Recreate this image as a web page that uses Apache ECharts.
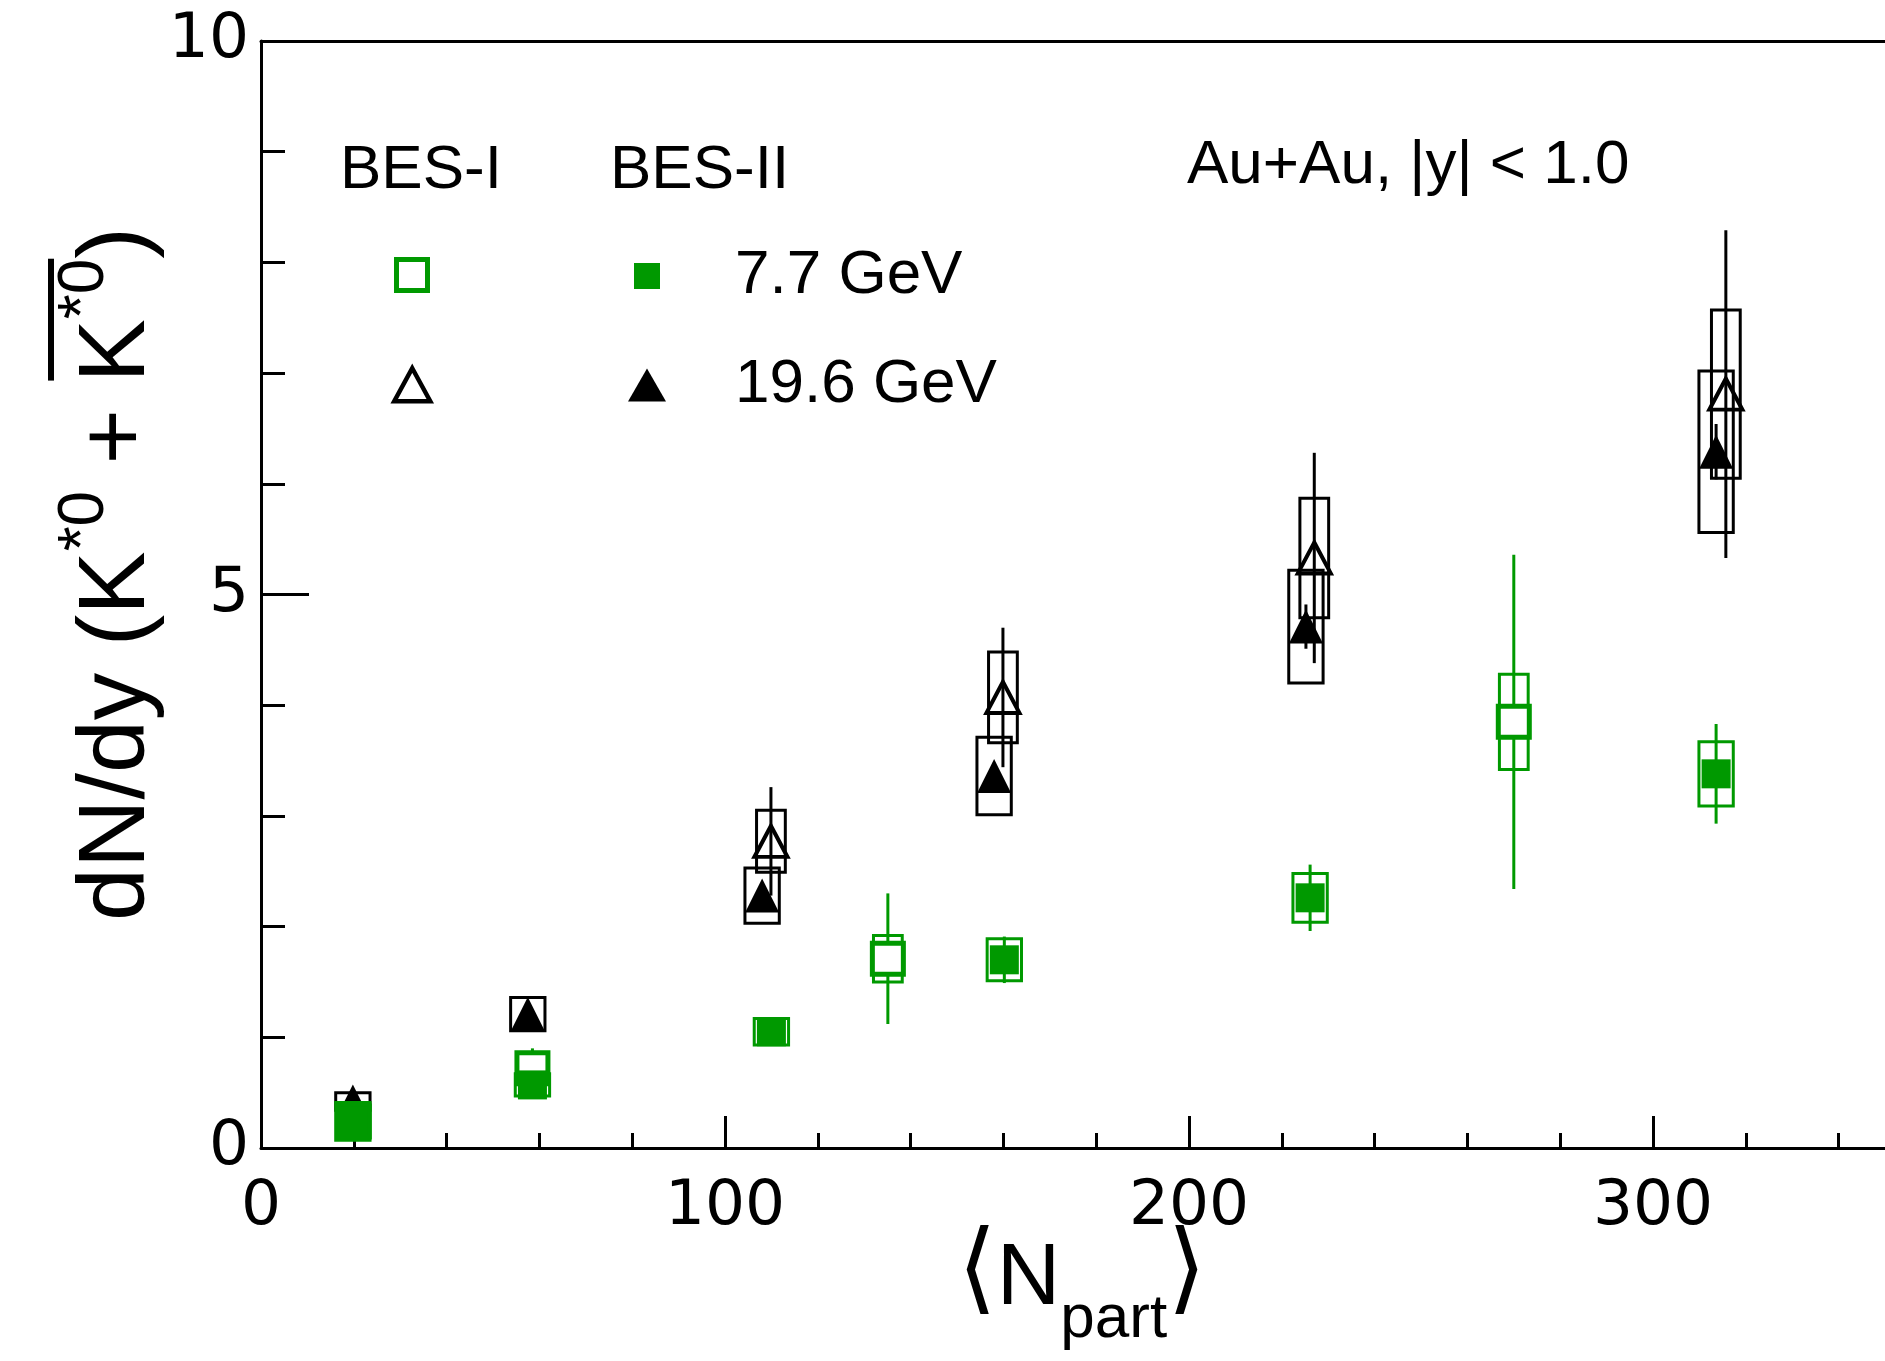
<!DOCTYPE html>
<html>
<head>
<meta charset="utf-8">
<script src="https://cdn.jsdelivr.net/npm/echarts@6/dist/echarts.min.js"></script>
<style>
  html, body { margin: 0; padding: 0; background: #fff; }
  #chart { width: 1885px; height: 1361px; }
</style>
</head>
<body>
<div id="chart"></div>
<script>
// K*0 + anti-K*0 yields vs <Npart>: centre value, statistical and systematic errors
const bes2_196_npart = [19.8, 57.5, 108.0, 158.0, 225.2, 313.6];
const bes2_196_yield = [0.42, 1.21, 2.28, 3.36, 4.71, 6.29];
const bes2_196_stat  = [0.05, 0.06, 0.08, 0.12, 0.20, 0.25];
const bes2_196_sys   = [0.08, 0.15, 0.25, 0.35, 0.51, 0.73];

const bes1_196_npart = [109.9, 159.9, 227.0, 315.7];
const bes1_196_yield = [2.77, 4.07, 5.33, 6.81];
const bes1_196_stat  = [0.49, 0.63, 0.95, 1.48];
const bes1_196_sys   = [0.28, 0.41, 0.54, 0.76];

const bes2_77_npart = [19.8, 58.5, 110.0, 160.2, 226.1, 313.6];
const bes2_77_yield = [0.24, 0.57, 1.05, 1.70, 2.26, 3.38];
const bes2_77_stat  = [0.05, 0.06, 0.05, 0.21, 0.30, 0.45];
const bes2_77_sys   = [0.17, 0.10, 0.12, 0.19, 0.22, 0.29];

const bes1_77_npart = [20.0, 58.5, 135.1, 270.0];
const bes1_77_yield = [0.24, 0.72, 1.71, 3.85];
const bes1_77_stat  = [0.05, 0.18, 0.59, 1.51];
const bes1_77_sys   = [0.08, 0.10, 0.21, 0.43];

const xTickLabels = [0, 100, 200, 300];
const xMinorTicks = [20, 40, 60, 80, 120, 140, 160, 180, 220, 240, 260, 280, 320, 340];
const yTickLabels = [0, 5, 10];

const GREEN = '#009900';
const BLACK = '#000000';
const TEXT_FONT = 'Liberation Sans';
const NUM_FONT = 'DejaVu Sans';

function rows(n, y, st, sy) {
  return n.map((v, i) => [v, y[i], st[i], sy[i]]);
}

// systematic box: half-width given in <Npart> units
function sysBox(halfWidth, color, lw) {
  return function (params, api) {
    const x = api.value(0), y = api.value(1), s = api.value(3);
    const a = api.coord([x - halfWidth, y + s]);
    const b = api.coord([x + halfWidth, y - s]);
    return {
      type: 'rect',
      shape: { x: a[0], y: a[1], width: b[0] - a[0], height: b[1] - a[1] },
      style: { fill: 'none', stroke: color, lineWidth: lw }
    };
  };
}

// statistical error bar
function statBar(color, lw) {
  return function (params, api) {
    const x = api.value(0), y = api.value(1), e = api.value(2);
    const a = api.coord([x, y + e]);
    const b = api.coord([x, y - e]);
    return {
      type: 'line',
      shape: { x1: a[0], y1: a[1], x2: b[0], y2: b[1] },
      style: { stroke: color, lineWidth: lw }
    };
  };
}

function errSeries(data, halfWidth, color, zBase) {
  return [
    { type: 'custom', data: data, renderItem: sysBox(halfWidth, color, 3), encode: { x: 0, y: 1 }, z: zBase, silent: true },
    { type: 'custom', data: data, renderItem: statBar(color, 3), encode: { x: 0, y: 1 }, z: zBase + 1, silent: true }
  ];
}

const d196b2 = rows(bes2_196_npart, bes2_196_yield, bes2_196_stat, bes2_196_sys);
const d196b1 = rows(bes1_196_npart, bes1_196_yield, bes1_196_stat, bes1_196_sys);
const d77b2 = rows(bes2_77_npart, bes2_77_yield, bes2_77_stat, bes2_77_sys);
const d77b1 = rows(bes1_77_npart, bes1_77_yield, bes1_77_stat, bes1_77_sys);

const series = [].concat(
  errSeries(d196b1, 3.1, BLACK, 2),
  errSeries(d196b2, 3.7, BLACK, 2),
  [
    { name: 'BES-I 19.6', type: 'scatter', data: d196b1, encode: { x: 0, y: 1 }, symbol: 'triangle', symbolSize: [33, 31],
      itemStyle: { color: 'rgba(255,255,255,0)', borderColor: BLACK, borderWidth: 4, opacity: 1 }, z: 4, silent: true, emphasis: { disabled: true } },
    { name: 'BES-II 19.6', type: 'scatter', data: d196b2, encode: { x: 0, y: 1 }, symbol: 'triangle', symbolSize: [34, 34],
      itemStyle: { color: BLACK, opacity: 1 }, z: 5, silent: true, emphasis: { disabled: true } }
  ],
  errSeries(d77b1, 3.1, GREEN, 6),
  errSeries(d77b2, 3.7, GREEN, 6),
  [
    { name: 'BES-I 7.7', type: 'scatter', data: d77b1, encode: { x: 0, y: 1 }, symbol: 'rect', symbolSize: 31,
      itemStyle: { color: '#ffffff', borderColor: GREEN, borderWidth: 5, opacity: 1 }, z: 8, silent: true, emphasis: { disabled: true } },
    { name: 'BES-II 7.7', type: 'scatter', data: d77b2, encode: { x: 0, y: 1 }, symbol: 'rect', symbolSize: 29,
      itemStyle: { color: GREEN, opacity: 1 }, z: 9, silent: true, emphasis: { disabled: true } }
  ]
);

// text helpers for the composed axis titles
const measureCtx = document.createElement('canvas').getContext('2d');
function textWidth(str, size, family) {
  measureCtx.font = size + 'px "' + family + '"';
  return measureCtx.measureText(str).width;
}
function buildRun(parts) {
  let cursor = 0;
  const children = [];
  const spans = [];
  parts.forEach(p => {
    const fam = p.fam || TEXT_FONT;
    const w = textWidth(p.t, p.s, fam);
    children.push({
      type: 'text', x: cursor, y: (p.dy || 0) - 0.347 * p.s, silent: true,
      style: { text: p.t, fontSize: p.s, fontFamily: fam, fill: BLACK, align: 'left', verticalAlign: 'middle' }
    });
    spans.push([cursor, cursor + w]);
    cursor += w;
  });
  return { children: children, spans: spans, width: cursor };
}

// y-axis title: dN/dy (K*0 + anti-K*0), read bottom to top
const yTitle = buildRun([
  { t: 'dN/dy (K', s: 95 },
  { t: '*0', s: 64, dy: -43 },
  { t: ' + ', s: 95 },
  { t: 'K', s: 95 },
  { t: '*0', s: 64, dy: -43 },
  { t: ')', s: 95 }
]);
yTitle.children.push({
  type: 'rect', silent: true,
  shape: { x: yTitle.spans[3][0] + 2, y: -103, width: yTitle.spans[4][1] - yTitle.spans[3][0] - 2, height: 6 },
  style: { fill: BLACK }
});

// x-axis title: <N_part>
const xTitle = buildRun([
  { t: '\u27E8', s: 100, fam: NUM_FONT },
  { t: 'N', s: 88 },
  { t: 'part', s: 62, dy: 31 },
  { t: '\u27E9', s: 100, fam: NUM_FONT }
]);

const legendBase = {
  selectedMode: false, padding: 0, symbolKeepAspect: false,
  textStyle: { color: BLACK, fontFamily: TEXT_FONT, fontSize: 62, lineHeight: 62 }
};
const legendNames = { 'BES-II 7.7': '7.7 GeV', 'BES-II 19.6': '19.6 GeV' };

const axisBlack = { color: BLACK, width: 3 };

const option = {
  animation: false,
  backgroundColor: '#ffffff',
  grid: { left: 261, top: 41, bottom: 213, right: 0 },
  xAxis: [
    {
      type: 'value', min: 0, max: 350, interval: 100, position: 'bottom',
      axisLine: { show: true, onZero: false, lineStyle: axisBlack },
      axisTick: { show: true, inside: true, length: 32, lineStyle: axisBlack, customValues: xTickLabels },
      minorTick: { show: false },
      splitLine: { show: false },
      axisLabel: { margin: 28, color: BLACK, fontFamily: NUM_FONT, fontSize: 63, customValues: xTickLabels,
        formatter: v => xTickLabels.includes(v) ? String(v) : '' }
    },
    {
      // minor ticks along the bottom edge
      type: 'value', min: 0, max: 350, interval: 20, position: 'bottom',
      axisLine: { show: false },
      axisTick: { show: true, inside: true, length: 15, lineStyle: axisBlack, customValues: xMinorTicks },
      axisLabel: { show: false },
      splitLine: { show: false }
    },
    {
      // frame line along the top edge
      type: 'value', min: 0, max: 350, position: 'top',
      axisLine: { show: true, onZero: false, lineStyle: axisBlack },
      axisTick: { show: false }, axisLabel: { show: false }, splitLine: { show: false }
    }
  ],
  yAxis: {
    type: 'value', min: 0, max: 10, interval: 5,
    axisLine: { show: true, onZero: false, lineStyle: axisBlack },
    axisTick: { show: true, inside: true, length: 48, lineStyle: axisBlack },
    minorTick: { show: true, splitNumber: 5, length: 24, lineStyle: axisBlack },
    splitLine: { show: false },
    axisLabel: { margin: 12, color: BLACK, fontFamily: NUM_FONT, fontSize: 63,
      formatter: v => yTickLabels.includes(v) ? String(v) : '' }
  },
  legend: [
    Object.assign({}, legendBase, { data: ['BES-I 7.7'], left: 394, top: 257, itemWidth: 31, itemHeight: 31,
      formatter: () => '', textStyle: { fontSize: 1, lineHeight: 1 }, itemStyle: { borderWidth: 5 } }),
    Object.assign({}, legendBase, { data: ['BES-I 19.6'], left: 392, top: 366, itemWidth: 36, itemHeight: 33,
      formatter: () => '', textStyle: { fontSize: 1, lineHeight: 1 }, itemStyle: { borderWidth: 4.5 } }),
    Object.assign({}, legendBase, { data: ['BES-II 7.7'], left: 634, top: 245, itemWidth: 26, itemHeight: 26,
      formatter: n => legendNames[n], itemStyle: { borderWidth: 0 },
      textStyle: Object.assign({}, legendBase.textStyle, { padding: [0, 0, 0, 70] }) }),
    Object.assign({}, legendBase, { data: ['BES-II 19.6'], left: 628, top: 354, itemWidth: 38, itemHeight: 33,
      formatter: n => legendNames[n], itemStyle: { borderWidth: 0 },
      textStyle: Object.assign({}, legendBase.textStyle, { padding: [0, 0, 0, 64] }) })
  ],
  graphic: [
    { type: 'text', x: 340, y: 171, silent: true,
      style: { text: 'BES-I', fontSize: 62, fontFamily: TEXT_FONT, fill: BLACK, align: 'left', verticalAlign: 'middle' } },
    { type: 'text', x: 610, y: 171, silent: true,
      style: { text: 'BES-II', fontSize: 62, fontFamily: TEXT_FONT, fill: BLACK, align: 'left', verticalAlign: 'middle' } },
    { type: 'text', x: 1187, y: 166, silent: true,
      style: { text: 'Au+Au, |y| < 1.0', fontSize: 62, fontFamily: TEXT_FONT, fill: BLACK, align: 'left', verticalAlign: 'middle' } },
    { type: 'group', x: 151, y: 574 + yTitle.width / 2, rotation: Math.PI / 2, children: yTitle.children },
    { type: 'group', x: 1082 - xTitle.width / 2, y: 1310, children: xTitle.children }
  ],
  series: series
};

const chart = echarts.init(document.getElementById('chart'), null, { renderer: 'canvas' });
chart.setOption(option);
</script>
</body>
</html>
